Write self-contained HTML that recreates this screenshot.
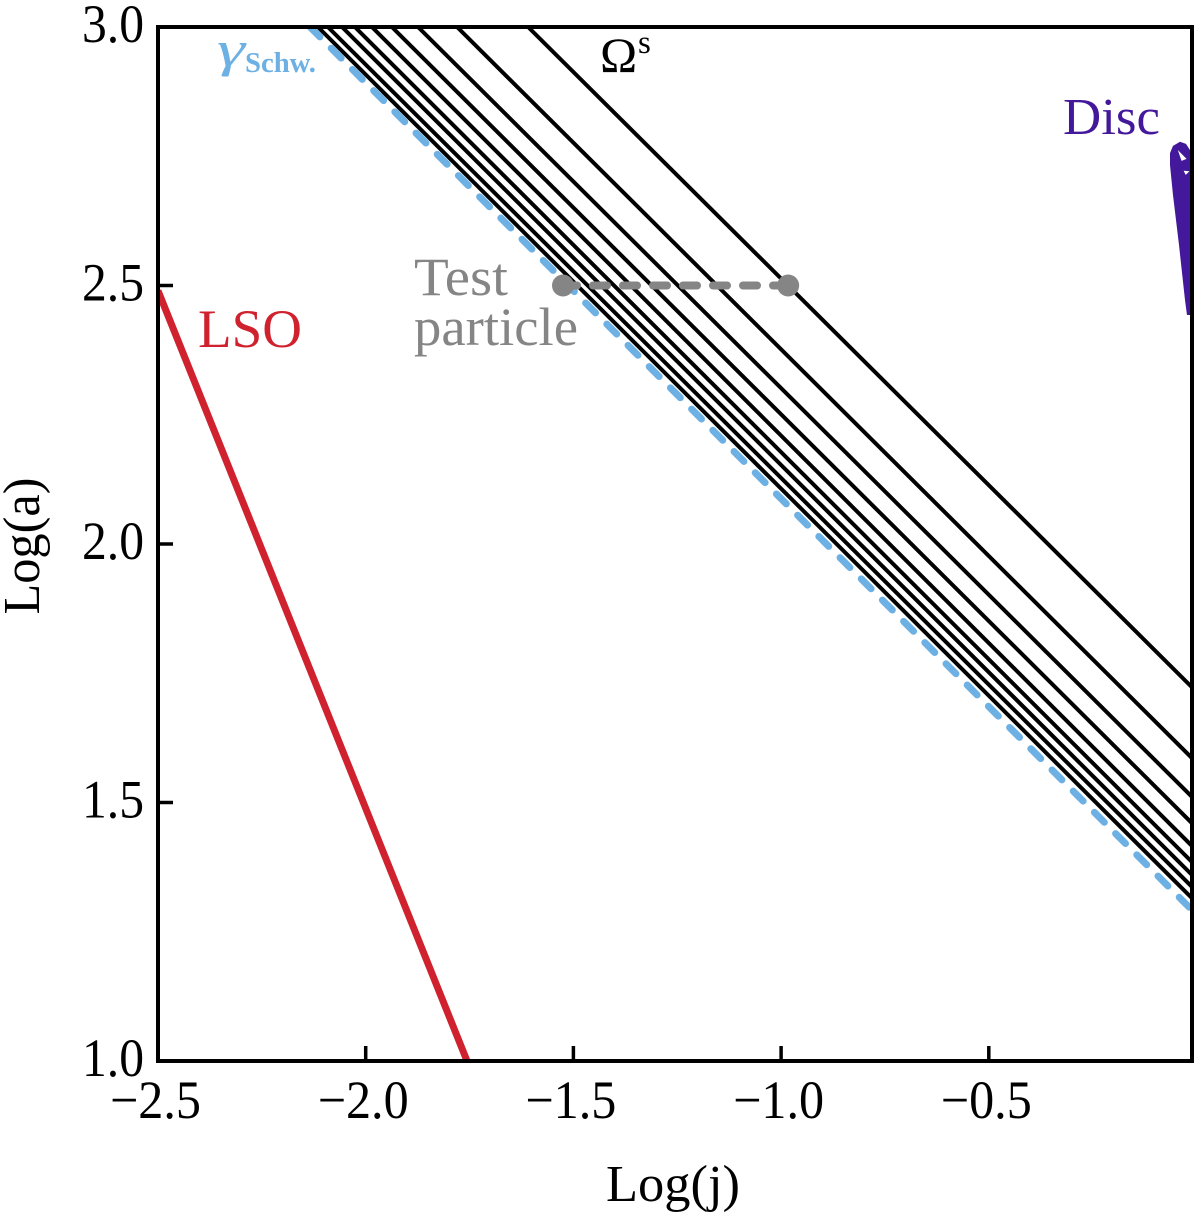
<!DOCTYPE html>
<html>
<head>
<meta charset="utf-8">
<title>Log(a) vs Log(j)</title>
<style>
html,body{margin:0;padding:0;background:#fff;}
svg{display:block;}
text{font-family:"Liberation Serif",serif;}
</style>
</head>
<body>
<svg id="chart" xmlns="http://www.w3.org/2000/svg" width="1200" height="1215" viewBox="0 0 1200 1215">
  <rect x="0" y="0" width="1200" height="1215" fill="#fff"/>
  <defs><clipPath id="plot-clip"><rect x="158" y="27" width="1034" height="1034"/></clipPath></defs>
  <g id="marks" clip-path="url(#plot-clip)"></g>
  <g id="axes"></g>
  <g id="overlay"></g>
  <text x="673" y="1201" font-size="52" text-anchor="middle" textLength="134" lengthAdjust="spacingAndGlyphs" fill="#000">Log(j)</text>
  <text transform="translate(39,546) rotate(-90)" font-size="52" text-anchor="middle" textLength="137" lengthAdjust="spacingAndGlyphs" fill="#000">Log(a)</text>
  <text x="198" y="347" font-size="54" textLength="104" lengthAdjust="spacingAndGlyphs" fill="#d0222e">LSO</text>
  <text x="414" y="295" font-size="54" textLength="94" lengthAdjust="spacingAndGlyphs" fill="#858585">Test</text>
  <text x="414" y="345" font-size="54" textLength="164" lengthAdjust="spacingAndGlyphs" fill="#858585">particle</text>
  <text x="1063" y="134" font-size="52" textLength="97" lengthAdjust="spacingAndGlyphs" fill="#43189a">Disc</text>
  <text x="600" y="72" font-size="50" fill="#000">Ω</text>
  <text x="638" y="53" font-size="33" fill="#000">s</text>
  <text x="217" y="66" font-size="50" font-style="italic" textLength="28" lengthAdjust="spacingAndGlyphs" fill="#6cb0e4">γ</text>
  <text x="245" y="72" font-size="29" font-weight="bold" textLength="71" lengthAdjust="spacingAndGlyphs" fill="#6cb0e4">Schw.</text>
</svg>
<script>
// Chart data
var xTickValues = [-2.5, -2.0, -1.5, -1.0, -0.5];
var xTickLabels = ['−2.5', '−2.0', '−1.5', '−1.0', '−0.5'];
var yTickValues = [1.0, 1.5, 2.0, 2.5, 3.0];
var yTickLabels = ['1.0', '1.5', '2.0', '2.5', '3.0'];
// Omega-s family: Log(j) where each line meets Log(a)=3, and Log(a) at the right-hand edge
var omegaTopLogJ = [-1.609, -1.780, -1.874, -1.937, -1.985, -2.026, -2.057, -2.091, -2.115];
var omegaEndLogA = [1.723, 1.586, 1.511, 1.460, 1.416, 1.385, 1.360, 1.337, 1.315];
var schwLogJ = [-2.134, -0.011];
var schwLogA = [3.0, 1.292];
var lsoLogJ = [-2.5, -1.756];
var lsoLogA = [2.49, 1.0];
var testLogJ = [-1.525, -0.983];
var testLogA = [2.5, 2.5];
var discLogJ = [-0.0229, -0.0277, -0.0421, -0.0566, -0.0638, -0.0638, -0.0566, -0.0397, -0.0253, -0.0157, -0.011, -0.011];
var discLogA = [2.443, 2.472, 2.578, 2.675, 2.733, 2.756, 2.770, 2.778, 2.774, 2.762, 2.750, 2.443];
var discGapALogJ = [-0.045, -0.024, -0.036];
var discGapALogA = [2.762, 2.745, 2.741];
var discGapBLogJ = [-0.031, -0.017, -0.026];
var discGapBLogA = [2.722, 2.721, 2.714];

var xRangeMin = -2.5, xPerUnit = 415.4, xOrigin = 158;
var yRangeMax = 3.0, yPerUnit = 517, yOrigin = 27;
function xScale(v){ return xOrigin + (v - xRangeMin) * xPerUnit; }
function yScale(v){ return yOrigin + (yRangeMax - v) * yPerUnit; }

var NS = 'http://www.w3.org/2000/svg';
var marks = document.getElementById('marks');
var axes = document.getElementById('axes');
var overlay = document.getElementById('overlay');

function makeLine(parent, x1, y1, x2, y2, color, width){
  var el = document.createElementNS(NS, 'line');
  el.setAttribute('x1', x1);
  el.setAttribute('y1', y1);
  el.setAttribute('x2', x2);
  el.setAttribute('y2', y2);
  el.setAttribute('stroke', color);
  el.setAttribute('stroke-width', width);
  parent.appendChild(el);
  return el;
}
function makeText(parent, x, y, str, anchor, len){
  var el = document.createElementNS(NS, 'text');
  el.setAttribute('x', x);
  el.setAttribute('y', y);
  el.setAttribute('font-size', '54');
  el.setAttribute('text-anchor', anchor);
  el.setAttribute('textLength', len);
  el.setAttribute('lengthAdjust', 'spacingAndGlyphs');
  el.setAttribute('fill', '#000');
  el.textContent = str;
  parent.appendChild(el);
  return el;
}
function makePoly(parent, xs, ys, color){
  var pts = [];
  for (var i = 0; i < xs.length; i++) { pts.push(xScale(xs[i]) + ',' + yScale(ys[i])); }
  var el = document.createElementNS(NS, 'polygon');
  el.setAttribute('points', pts.join(' '));
  el.setAttribute('fill', color);
  parent.appendChild(el);
  return el;
}

// Omega-s lines
omegaTopLogJ.forEach(function(j, i){
  var el = makeLine(marks, xScale(j), yScale(3.0), xScale(-0.011), yScale(omegaEndLogA[i]), '#000', 4);
  
  
});

// Schwarzschild dashed line
var schw = makeLine(marks, xScale(schwLogJ[0]), yScale(schwLogA[0]), xScale(schwLogJ[1]), yScale(schwLogA[1]), '#6cb0e4', 7);
schw.setAttribute('stroke-dasharray', '14 16');
schw.setAttribute('stroke-linecap', 'round');



// LSO line
var lso = makeLine(marks, xScale(lsoLogJ[0]), yScale(lsoLogA[0]), xScale(lsoLogJ[1]), yScale(lsoLogA[1]), '#d0222e', 7);



// Disc
var disc = makePoly(marks, discLogJ, discLogA, '#43189a');


var gapA = makePoly(marks, discGapALogJ, discGapALogA, '#fff');


var gapB = makePoly(marks, discGapBLogJ, discGapBLogA, '#fff');



// Test particle
var testLine = makeLine(overlay, xScale(testLogJ[0]), yScale(testLogA[0]), xScale(testLogJ[1]), yScale(testLogA[1]), '#858585', 8);
testLine.setAttribute('stroke-dasharray', '14 16');
testLine.setAttribute('stroke-linecap', 'round');


testLogJ.forEach(function(j, i){
  var c = document.createElementNS(NS, 'circle');
  c.setAttribute('cx', xScale(j));
  c.setAttribute('cy', yScale(testLogA[i]));
  c.setAttribute('r', '11');
  c.setAttribute('fill', '#858585');
  
  
  overlay.appendChild(c);
});

// Frame
var frame = document.createElementNS(NS, 'rect');
frame.setAttribute('x', xScale(-2.5));
frame.setAttribute('y', yScale(3.0));
frame.setAttribute('width', 1034);
frame.setAttribute('height', 1034);
frame.setAttribute('fill', 'none');
frame.setAttribute('stroke', '#000');
frame.setAttribute('stroke-width', '4');


axes.appendChild(frame);

// X ticks and labels
xTickValues.forEach(function(v, i){
  var px = xScale(v);
  var t = makeLine(axes, px, yScale(1.0), px, yScale(1.0) - 15, '#000', 3.5);
  
  
  var l = makeText(axes, px - 2.5, 1118, xTickLabels[i], 'middle', 91);
  
  
});

// Y ticks and labels
yTickValues.forEach(function(v, i){
  var py = yScale(v);
  var t = makeLine(axes, xScale(-2.5), py, xScale(-2.5) + 15, py, '#000', 3.5);
  
  
  var l = makeText(axes, 144, py + 15, yTickLabels[i], 'end', 62);
  
  
});
</script>
</body>
</html>
